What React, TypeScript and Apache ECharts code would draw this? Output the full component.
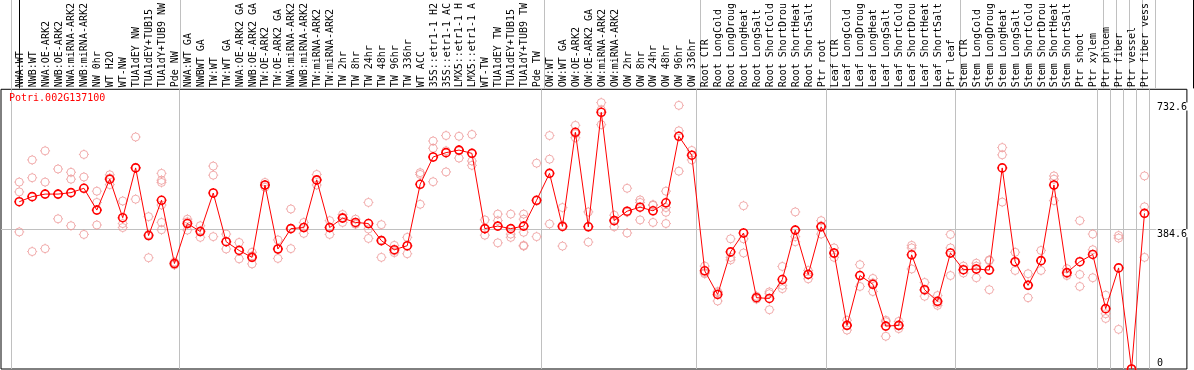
import React, { useEffect, useRef } from 'react';
import * as echarts from 'echarts';

const TITLE = 'Potri.002G137100';

const categories: string[] = [
  'NWA:WT', 'NWB:WT', 'NWA:OE-ARK2', 'NWB:OE-ARK2', 'NWA:miRNA-ARK2', 'NWB:miRNA-ARK2', 'NW 0hr', 'WT H2O', 'WT-NW', 'TUA1dEY NW', 'TUA1dEY+TUB15', 'TUA1dY+TUB9 NW', 'Pde NW',
  'NWA:WT GA', 'NWBWT GA', 'TW:WT', 'TW:WT GA', 'NWA:OE-ARK2 GA', 'NWB:OE-ARK2 GA', 'TW:OE-ARK2', 'TW:OE-ARK2 GA', 'NWA:miRNA-ARK2', 'NWB:miRNA-ARK2', 'TW:miRNA-ARK2', 'TW:miRNA-ARK2', 'TW 2hr', 'TW 8hr', 'TW 24hr', 'TW 48hr', 'TW 96hr', 'TW 336hr', 'WT ACC', '35S::etr1-1 H2', '35S::etr1-1 AC', 'LMX5::etr1-1 H', 'LMX5::etr1-1 A', 'WT-TW', 'TUA1dEY TW', 'TUA1dEY+TUB15', 'TUA1dY+TUB9 TW', 'Pde TW',
  'OW:WT', 'OW:WT GA', 'OW:OE-ARK2', 'OW:OE-ARK2 GA', 'OW:miRNA-ARK2', 'OW:miRNA-ARK2', 'OW 2hr', 'OW 8hr', 'OW 24hr', 'OW 48hr', 'OW 96hr', 'OW 336hr',
  'Root CTR', 'Root LongCold', 'Root LongDroug', 'Root LongHeat', 'Root LongSalt', 'Root ShortCold', 'Root ShortDrou', 'Root ShortHeat', 'Root ShortSalt', 'Ptr root',
  'Leaf CTR', 'Leaf LongCold', 'Leaf LongDroug', 'Leaf LongHeat', 'Leaf LongSalt', 'Leaf ShortCold', 'Leaf ShortDrou', 'Leaf ShortHeat', 'Leaf ShortSalt', 'Ptr leaf',
  'Stem CTR', 'Stem LongCold', 'Stem LongDroug', 'Stem LongHeat', 'Stem LongSalt', 'Stem ShortCold', 'Stem ShortDrou', 'Stem ShortHeat', 'Stem ShortSalt', 'Ptr shoot', 'Ptr xylem',
  'Ptr phloem', 'Ptr fiber', 'Ptr vessel', 'Ptr fiber vess',
];

const means: number[] = [
  460, 474, 481, 481, 485, 497, 437, 522, 416, 553,
  367, 464, 290, 400, 378, 484, 350, 326, 307, 506,
  330, 386, 389, 520, 389, 415, 403, 400, 353, 328,
  339, 508, 583, 595, 602, 593, 386, 393, 386, 393,
  464, 538, 392, 651, 391, 706, 408, 434, 445, 435,
  457, 640, 588, 270, 205, 322, 374, 196, 194, 246,
  382, 260, 391, 319, 120, 257, 233, 118, 120, 314,
  218, 186, 319, 273, 275, 272, 553, 295, 230, 298,
  506, 265, 295, 315, 166, 278, 0, 428,
];

const replicates: number[][] = [
  [514, 487, 377], [575, 526, 323], [600, 514, 331], [550, 480, 413], [541, 522, 394],
  [590, 528, 370], [489, 458, 396], [534, 525, 507], [462, 400, 389], [638, 554, 467],
  [419, 370, 306], [538, 519, 513, 451, 403, 383], [294, 289, 286], [412, 405, 382], [394, 380, 362],
  [558, 533, 364], [371, 350, 330], [348, 327, 303], [321, 311, 289], [513, 505, 500],
  [355, 331, 304], [440, 387, 331], [403, 390, 373], [535, 519, 506], [408, 389, 370],
  [425, 417, 403], [412, 400, 398], [458, 385, 359], [397, 355, 307], [340, 325, 320],
  [362, 338, 317], [540, 535, 453], [627, 607, 515], [642, 600, 542], [640, 600, 580],
  [645, 572, 560], [410, 385, 368], [426, 408, 347], [426, 371, 362], [426, 412, 376, 340, 338],
  [566, 462, 364], [642, 577, 399], [444, 395, 338], [670, 647, 636], [432, 392, 349],
  [732.6, 713, 672], [423, 410, 391], [497, 431, 374], [465, 458, 410], [452, 450, 403],
  [489, 444, 431, 400], [725, 655, 544], [601, 588, 575], [283, 265, 262], [213, 210, 187],
  [358, 307, 300], [449, 358, 319], [200, 196, 192], [212, 207, 163], [282, 230, 221],
  [432, 364, 350], [271, 261, 248], [408, 394, 371], [333, 317, 307], [134, 119, 107],
  [287, 257, 227], [249, 237, 213], [134, 130, 90], [131, 118, 111], [340, 333, 275],
  [238, 216, 200], [202, 181, 175], [370, 333, 257], [283, 272, 264], [291, 283, 251],
  [300, 298, 218], [609, 589, 459], [321, 293, 271], [262, 232, 196], [326, 297, 271],
  [531, 522, 463], [276, 262, 257], [408, 260, 227], [371, 328, 251], [203, 152, 139],
  [367, 360, 109], [0, 0, 0], [531, 446, 307],
];

// index of the last category in each group (separators drawn after them)
const groupEnds: number[] = [-1, 12, 40, 52, 62, 72, 83, 84, 85, 86, 87];

const yTickTop = 732.6;
const yTickMid = 384.6;
const yTickZero = 0;

const X_MIN = -1.41;
const X_MAX = 90.28;
const Y_MAX = 769.2;

const FONT = 'DejaVu Sans Mono';
const SYM = 'path://M1,5A4,4,0,1,1,9,5A4,4,0,1,1,1,5ZM5,0L5,1M5,9L5,10M0,5L1,5M9,5L10,5';

export default function App() {
  const ref = useRef<HTMLDivElement>(null);
  useEffect(() => {
    const chart = echarts.init(ref.current as HTMLDivElement, null, { renderer: 'svg' });
    const sepValues = groupEnds.map((e) => e + 0.38);
    const repData: number[][] = [];
    replicates.forEach((vals, i) => vals.forEach((v) => repData.push([i, v])));
    const meanData = means.map((v, i) => [i, v]);
    const gridLine = { show: true, lineStyle: { color: '#c0c0c0', width: 1 } };
    const frameAxis = (pos: string) => ({
      gridIndex: 1, type: 'value', position: pos,
      axisLine: { show: true, lineStyle: { color: '#000', width: 1 } },
      axisTick: { show: false }, axisLabel: { show: false }, splitLine: { show: false },
    });
    chart.setOption({
      animation: false,
      title: {
        text: TITLE, left: 9, top: 92, padding: 0,
        textStyle: { color: '#ff0000', fontSize: 10, fontWeight: 'normal', fontFamily: FONT },
      },
      grid: [
        { left: 1, right: 1, top: 88, bottom: 1, show: true, borderColor: '#000', borderWidth: 1 },
        { left: 1, right: 1, top: 0, height: 88 },
      ],
      xAxis: [
        {
          gridIndex: 0, type: 'value', min: X_MIN, max: X_MAX, position: 'top',
          axisLine: { show: false },
          axisTick: { show: false, customValues: sepValues },
          splitLine: gridLine,
          axisLabel: {
            customValues: categories.map((_, i) => i),
            formatter: (v: number) => categories[Math.round(v)],
            rotate: 90, margin: 2, fontFamily: FONT, fontSize: 10, color: '#000',
          },
        },
        {
          gridIndex: 1, type: 'value', min: X_MIN, max: X_MAX, position: 'bottom',
          axisLine: { show: false },
          axisTick: { show: false, customValues: sepValues },
          axisLabel: { show: false },
          splitLine: gridLine,
        },
      ],
      yAxis: [
        {
          gridIndex: 0, type: 'value', min: 0, max: Y_MAX, position: 'right',
          axisLine: { show: false },
          axisTick: { show: false, customValues: [yTickMid] },
          splitLine: gridLine,
          axisLabel: {
            customValues: [yTickMid, yTickTop], inside: true, align: 'left', margin: 31,
            verticalAlign: 'top', fontFamily: FONT, fontSize: 10, color: '#000',
            lineHeight: 6, backgroundColor: '#fff', padding: [1, 4, 1, 1],
          },
        },
        {
          gridIndex: 0, type: 'value', min: 0, max: Y_MAX, position: 'right',
          axisLine: { show: false },
          axisTick: { show: false, customValues: [yTickZero] },
          splitLine: { show: false },
          axisLabel: {
            customValues: [yTickZero], inside: true, align: 'left', margin: 30,
            verticalAlign: 'bottom', fontFamily: FONT, fontSize: 10, color: '#000',
            padding: [0, 0, 2, 0],
          },
        },
        frameAxis('left'),
        frameAxis('right'),
      ],
      series: [
        {
          type: 'scatter', xAxisIndex: 0, yAxisIndex: 0, data: repData,
          symbol: SYM, symbolSize: 10,
          itemStyle: { color: 'rgba(0,0,0,0)', borderColor: '#ee9999', borderWidth: 1 },
          z: 2,
        },
        {
          type: 'line', xAxisIndex: 0, yAxisIndex: 0, data: meanData,
          symbol: SYM, symbolSize: 10, showSymbol: true,
          lineStyle: { color: '#ff0000', width: 1 },
          itemStyle: { color: 'rgba(0,0,0,0)', borderColor: '#ff0000', borderWidth: 1.6 },
          z: 3,
        },
      ],
    });
    return () => chart.dispose();
  }, []);
  return <div ref={ref} style={{ position: 'fixed', left: 0, top: 0, width: 1194, height: 370 }} />;
}
